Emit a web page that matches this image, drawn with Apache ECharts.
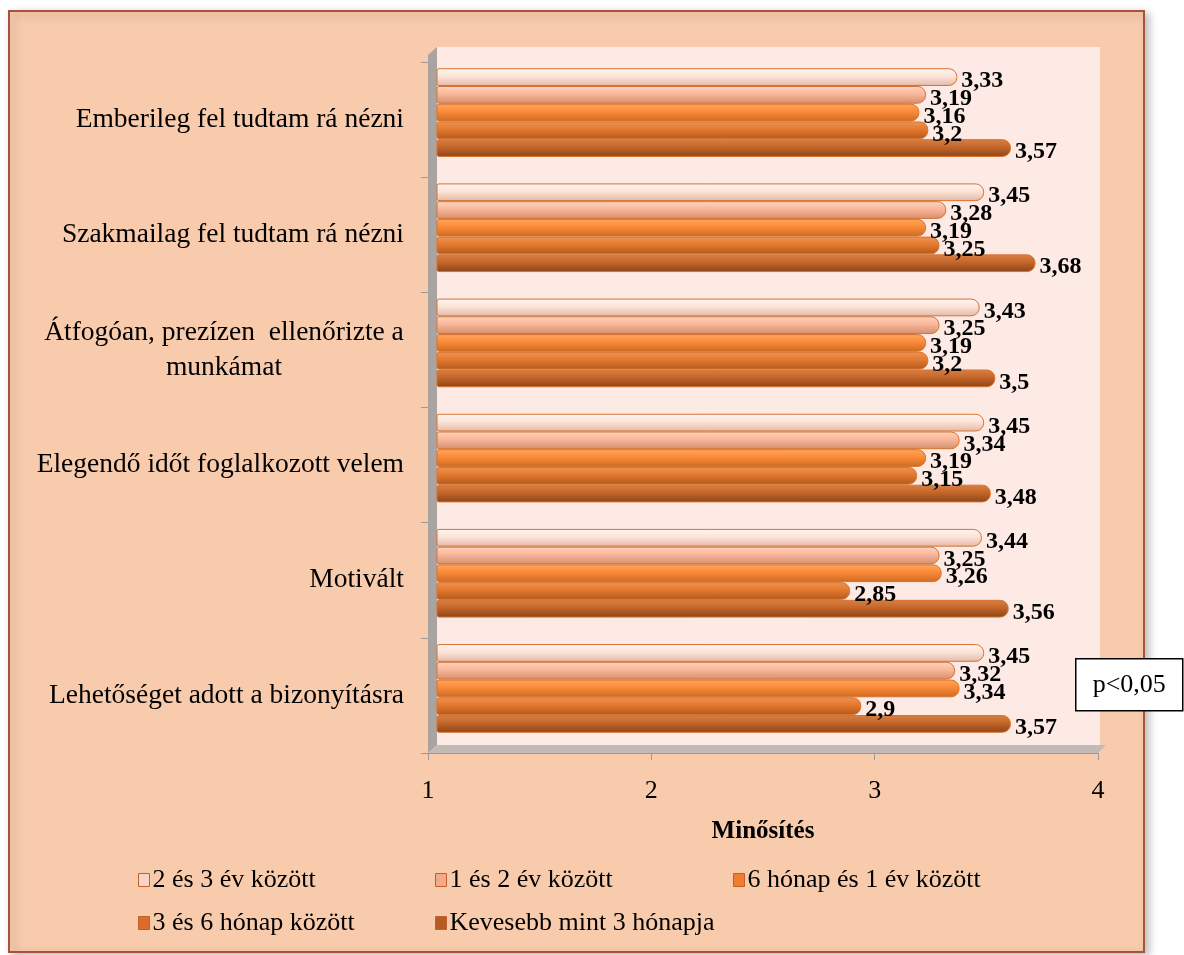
<!DOCTYPE html>
<html>
<head>
<meta charset="utf-8">
<script src="https://cdn.jsdelivr.net/npm/echarts@6/dist/echarts.min.js"></script>
<style>
html,body{margin:0;padding:0;background:#ffffff;}
#chart{width:1184px;height:955px;}
</style>
</head>
<body>
<div id="chart"></div>
<script>
// ---- data ----
const categories = [
  'Emberileg fel tudtam rá nézni',
  'Szakmailag fel tudtam rá nézni',
  'Átfogóan, prezízen  ellenőrizte a\nmunkámat',
  'Elegendő időt foglalkozott velem',
  'Motivált',
  'Lehetőséget adott a bizonyításra'
];
const seriesNames = [
  '2 és 3 év között',
  '1 és 2 év között',
  '6 hónap és 1 év között',
  '3 és 6 hónap között',
  'Kevesebb mint 3 hónapja'
];
const s2to3years   = [3.33, 3.45, 3.43, 3.45, 3.44, 3.45];
const s1to2years   = [3.19, 3.28, 3.25, 3.34, 3.25, 3.32];
const s6mTo1year   = [3.16, 3.19, 3.19, 3.19, 3.26, 3.34];
const s3to6months  = [3.2, 3.25, 3.2, 3.15, 2.85, 2.9];
const sUnder3months = [3.57, 3.68, 3.5, 3.48, 3.56, 3.57];
const xTicks = [1, 2, 3, 4];
const axisTitle = 'Minősítés';
const noteText = 'p<0,05';

// ---- styles ----
const FONT = '"Liberation Serif", "Times New Roman", serif';
const grads = [
  ['#FFF6F2', '#FCE3D8', '#E2B9A8'],
  ['#FDD5C2', '#F9B698', '#D58E70'],
  ['#FFA65E', '#FB8A38', '#CC6A22'],
  ['#EF9452', '#E3782E', '#B25A1C'],
  ['#D98044', '#C4662A', '#8C4418']
];
const legendColors = ['#F9D3C9', '#F2A98C', '#F07D30', '#DC6C2A', '#B55B25'];
function grad(c){
  return new echarts.graphic.LinearGradient(0,0,0,1,[
    {offset:0,color:c[0]},{offset:0.45,color:c[1]},{offset:1,color:c[2]}
  ]);
}
const allData = [s2to3years, s1to2years, s6mTo1year, s3to6months, sUnder3months];

const series = allData.map((d, i) => ({
  name: seriesNames[i],
  type: 'bar',
  xAxisIndex: 0,
  yAxisIndex: 0,
  data: d,
  barGap: '0%',
  barCategoryGap: '23%',
  z: 5,
  itemStyle: {
    color: grad(grads[i]),
    borderColor: '#D8722E',
    borderWidth: 1,
    borderRadius: [2, 8, 8, 2]
  },
  label: {
    show: true,
    position: 'right',
    distance: 4,
    offset: [0, 4],
    fontFamily: FONT,
    fontWeight: 'bold',
    fontSize: 24,
    color: '#000',
    formatter: p => String(p.value).replace('.', ',')
  }
}));

const legendBase = {
  orient: 'vertical',
  top: 862,
  itemGap: 17,
  itemWidth: 11,
  itemHeight: 13,
  icon: 'rect',
  textStyle: {fontFamily: FONT, fontSize: 26, color: '#000', padding: [0,0,0,-2]}
};
function legendData(idx){
  return idx.map(i => ({name: seriesNames[i],
    itemStyle: {color: legendColors[i], borderColor: '#C0602C', borderWidth: 1}}));
}

const option = {
  animation: false,
  backgroundColor: '#ffffff',
  graphic: [
    {type:'rect', z:-10, shape:{x:9, y:11, width:1135, height:941},
      style:{fill:'#F8CBAD', stroke:'#A9503F', lineWidth:2,
        shadowBlur:8, shadowOffsetX:4, shadowOffsetY:3, shadowColor:'rgba(0,0,0,0.25)'}},
    {type:'rect', z:-9, shape:{x:437, y:47, width:663, height:698},
      style:{fill:'#FDEAE5'}},
    {type:'polygon', z:-9, shape:{points:[[428,55],[437,47],[437,745],[428,753]]},
      style:{fill:'#A9A3A2'}},
    {type:'polygon', z:-9, shape:{points:[[428,753],[437,745],[1106,745],[1098,753]]},
      style:{fill:'#C3BAB7'}},
    {type:'group', left:1075, top:658, z:20, children:[
      {type:'rect', shape:{x:0,y:0,width:107,height:52},
        style:{fill:'#ffffff', stroke:'#000', lineWidth:1.5}},
      {type:'text', style:{text:noteText, x:53.5, y:26, align:'center', verticalAlign:'middle',
        font:'26px "Liberation Serif", serif', fill:'#000'}}
    ]}
  ],
  grid: [
    {left: 437, right: 77, top: 55, bottom: 209, containLabel: false},
    {left: 428, right: 86, top: 62, bottom: 202, containLabel: false}
  ],
  xAxis: [
    {gridIndex: 0, type: 'value', min: 1, max: 4, interval: 1, show: false},
    {gridIndex: 1, type: 'value', min: xTicks[0], max: xTicks[xTicks.length-1], interval: 1,
      position: 'bottom',
      name: axisTitle, nameLocation: 'middle', nameGap: 66,
      nameTextStyle: {fontFamily: FONT, fontWeight: 'bold', fontSize: 25, color: '#000'},
      axisLine: {show: true, lineStyle: {color: '#9A9A9A', width: 1}},
      axisTick: {show: true, length: 7, lineStyle: {color: '#9A9A9A'}},
      axisLabel: {margin: 25, fontFamily: FONT, fontSize: 26, color: '#000'},
      splitLine: {show: false}}
  ],
  yAxis: [
    {gridIndex: 0, type: 'category', data: categories, inverse: true, show: false},
    {gridIndex: 1, type: 'category', data: categories, inverse: true,
      axisLine: {show: false},
      axisTick: {show: true, length: 7, lineStyle: {color: '#9A9A9A'}},
      axisLabel: {
        margin: 24, fontFamily: FONT, fontSize: 27.5, color: '#000', lineHeight: 35,
        formatter: v => v.indexOf('\n') < 0 ? v :
          v.split('\n').map(l => '{c|' + l + '}').join('\n'),
        rich: {c: {width: 360, align: 'center', fontFamily: FONT, fontSize: 27.5, color: '#000', lineHeight: 35}}
      }}
  ],
  legend: [
    Object.assign({}, legendBase, {left: 133, data: legendData([0, 3])}),
    Object.assign({}, legendBase, {left: 430, data: legendData([1, 4])}),
    Object.assign({}, legendBase, {left: 728, data: legendData([2])})
  ],
  series: series
};

const chart = echarts.init(document.getElementById('chart'), null, {renderer: 'canvas'});
chart.setOption(option);
</script>
</body>
</html>
